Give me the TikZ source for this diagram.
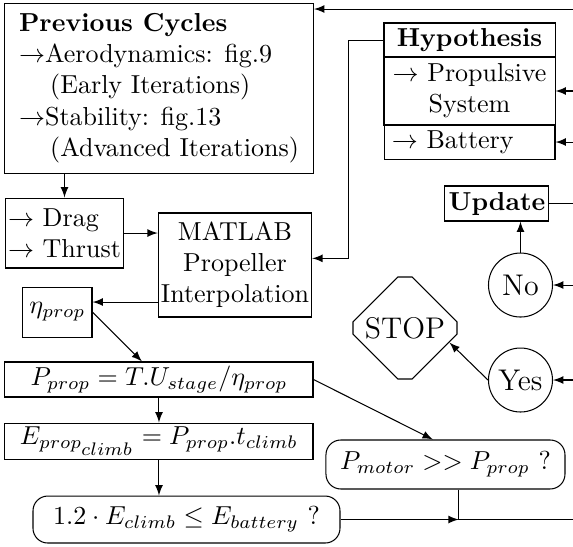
\documentclass[tikz,border=0pt]{standalone}
\usetikzlibrary{shapes.misc}

\begin{document}
\begin{tikzpicture}[>=latex,
  box/.style={draw, inner sep=1pt},
  query/.style={draw, rounded corners=0.2cm, inner sep=1pt},
  answer/.style={draw, circle, inner sep=0pt, minimum size=0.865cm, font=\fontsize{11.5}{14}\selectfont}]
\useasboundingbox (0,0) rectangle (7.746,7.381);
\coordinate (edge) at (7.8,0);
\coordinate (top) at (7.8,7.259);
\node[box, align=left, minimum width=4.177cm, minimum height=2.298cm] (prev) at (2.149,6.191) {\textbf{Previous Cycles}\\$\rightarrow$Aerodynamics: fig.9\\\hspace*{12pt}(Early Iterations)\\$\rightarrow$Stability: fig.13\\\hspace*{12pt}(Advanced Iterations)};
\node[box, align=left, minimum width=1.582cm, minimum height=0.946cm] (drag) at (0.872,4.231) {$\rightarrow$ Drag\\$\rightarrow$ Thrust};
\node[box, align=center, minimum width=2.055cm, minimum height=1.406cm] (matlab) at (3.177,3.799) {MATLAB\\Propeller\\Interpolation};
\node[box, minimum width=0.933cm, minimum height=0.676cm] (eta) at (0.777,3.163) {$\eta_{prop}$};
\node[box, minimum width=4.164cm, minimum height=0.473cm] (pprop) at (2.149,2.251) {$P_{prop} = T.U_{stage}/\eta_{prop}$};
\node[box, minimum width=4.164cm, minimum height=0.487cm] (eclimb) at (2.149,1.419) {$E_{prop_{\scriptstyle climb}} = P_{prop}.t_{climb}$};
\node[query, minimum width=4.150cm, minimum height=0.635cm] (check) at (2.521,0.358) {$1.2\cdot E_{climb} \leq E_{battery}$ ?};
\node[query, minimum width=3.231cm, minimum height=0.662cm] (pmotor) at (6.022,1.102) {$P_{motor} >> P_{prop}$ ?};
% Hypothesis
\node[box, minimum width=2.312cm, minimum height=0.460cm] (hyp) at (6.347,6.840) {\textbf{Hypothesis}};
\node[box, align=center, minimum width=2.312cm, minimum height=0.919cm] (prop) at (6.347,6.151) {$\rightarrow$ Propulsive\\System};
\node[box, inner xsep=3pt, text width=2.10cm, align=left, minimum height=0.460cm] (batt) at (6.347,5.461) {$\rightarrow$ Battery};
\node[box, minimum width=1.406cm, minimum height=0.473cm] (upd) at (6.718,4.630) {\textbf{Update}};
\node[answer] (no) at (7.036,3.528) {No};
\node[answer] (yes) at (7.036,2.244) {Yes};
\node[draw, chamfered rectangle, chamfered rectangle xsep=0.473cm, chamfered rectangle ysep=0.46cm, minimum width=1.406cm, minimum height=1.379cm, inner sep=0pt, font=\fontsize{11.5}{14}\selectfont] (stop) at (5.475,2.947) {STOP};
% Arrows
\draw[->] (top) -- (top -| prev.east);
\draw[->] (prev.south -| drag.north) -- (drag.north);
\draw[->] (drag.east) -- (drag.east -| matlab.west);
\draw[->] (hyp.west) -- ++(-0.47,0) |- ([yshift=0.09cm]matlab.east);
\draw[->] ([yshift=0.135cm]eta.east -| matlab.west) -- ([yshift=0.135cm]eta.east);
\draw[->] (eta.east) -- ([xshift=-0.23cm]pprop.north);
\draw[->] (pprop.south) -- (eclimb.north);
\draw[->] (eclimb.south) -- (eclimb.south |- check.north);
\draw[->] (pprop.east) -- ([xshift=-0.17cm]pmotor.north);
\coordinate (join) at ([xshift=0.18cm]pmotor.south |- check.east);
\draw[->] (check.east) -- (join);
\draw ([xshift=0.18cm]pmotor.south) -- (join) -- (join -| edge);
% Back to the loop
\draw[->] (prop.east -| edge) -- (prop.east);
\draw[->] (batt.east -| edge) -- (batt.east);
\draw (upd.east) -- (upd.east -| edge);
\draw[->] (no.north) -- (no.north |- upd.south);
\draw[->] (no.east -| edge) -- (no.east);
\draw[->] (yes.east -| edge) -- (yes.east);
\draw[->] (yes.west) -- (stop.-18);
\end{tikzpicture}
\end{document}
